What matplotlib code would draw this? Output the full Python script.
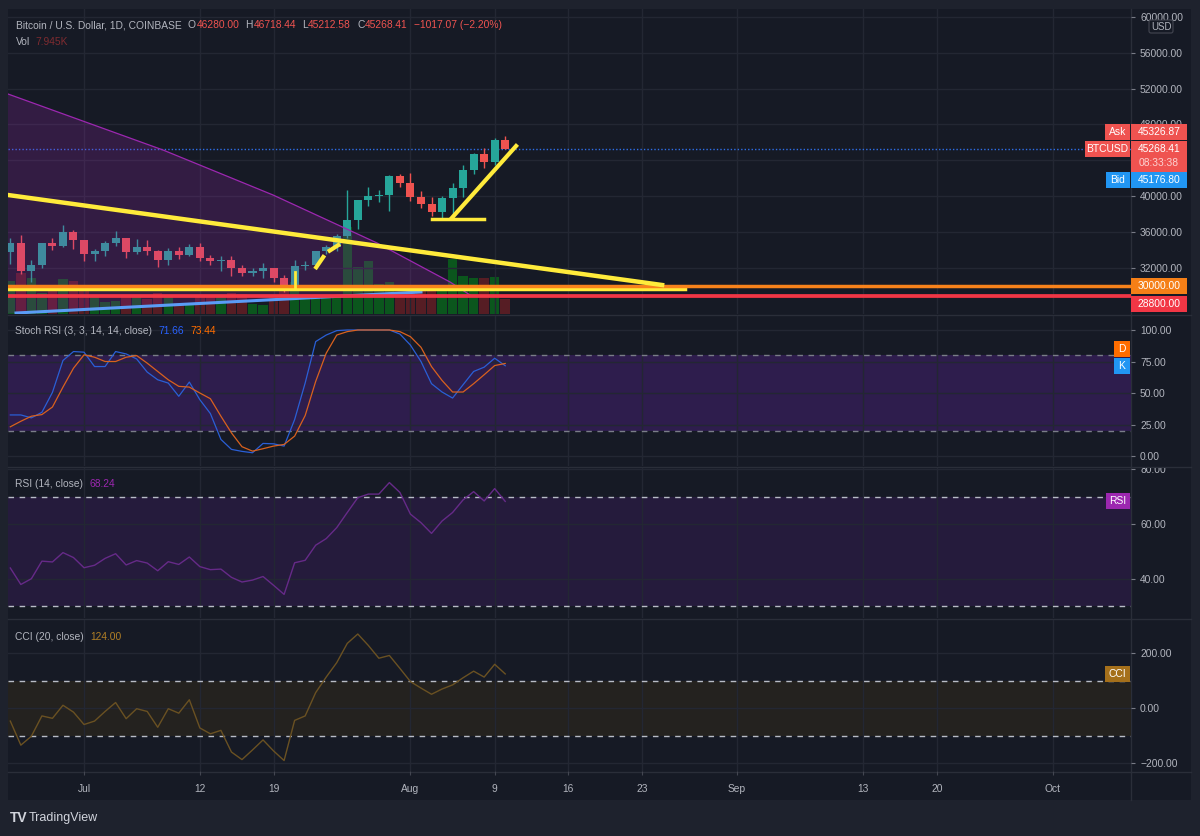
import numpy as np
import matplotlib.pyplot as plt
from matplotlib.patches import Rectangle, FancyBboxPatch, Polygon
from matplotlib.transforms import Bbox, TransformedBbox

plt.rcParams['font.family'] = ['Liberation Sans', 'DejaVu Sans']

W, H = 1200, 836
BG = '#161a25'
OUTER = '#1e222d'
GRID = '#232733'
SEP = '#2a2e39'
TXT = '#b2b5be'
UP, DOWN = '#26a69a', '#ef5350'
YEL = '#ffeb3b'
FS = 7.4

# daily BTCUSD candles, 24 Jun -> 10 Aug 2021 (day 0 = 1 Jul)
days = np.arange(-7, 41)
opens = [33700, 34750, 31600, 32300, 34700, 34450, 35950, 35050, 33500, 33850,
         34750, 35300, 33700, 34300, 33900, 32870, 33850, 33450, 34300, 33100,
         32700, 32820, 31900, 31400, 31650, 31900, 30800, 29800, 32150, 32300,
         33800, 34300, 35500, 37300, 39500, 40000, 40120, 42250, 41500, 39850,
         39150, 38200, 39750, 40870, 42900, 44650, 43800, 46280.00]
highs = [35300, 35600, 32800, 34800, 35300, 36800, 36200, 35100, 34100, 34950,
         36050, 35350, 35200, 35050, 34000, 34200, 34300, 34650, 34700, 33450,
         33250, 33250, 32300, 31950, 32500, 32000, 31150, 32850, 32700, 33850,
         34550, 35750, 40650, 39600, 40950, 40650, 42350, 42450, 42600, 40600,
         39850, 40050, 41400, 43450, 44850, 45400, 46500, 46718.44]
lows = [32400, 31300, 30400, 32000, 33950, 34300, 34050, 32700, 32700, 33350,
        34400, 33100, 33550, 33450, 32100, 32300, 33000, 33350, 32700, 32300,
        31600, 31050, 31050, 31100, 30800, 30400, 29300, 29500, 31700, 31900,
        33500, 33900, 35300, 36350, 38850, 39300, 38350, 41050, 39400, 38700,
        37750, 37550, 37350, 39850, 42450, 43100, 43450, 45212.58]
closes = [34750, 31600, 32300, 34700, 34450, 35950, 35050, 33500, 33850, 34750,
          35300, 33700, 34300, 33900, 32870, 33850, 33450, 34300, 33100, 32700,
          32820, 31900, 31400, 31650, 31900, 30800, 29800, 32150, 32300, 33800,
          34300, 35500, 37300, 39500, 40000, 40120, 42250, 41500, 39850, 39150,
          38200, 39750, 40870, 42900, 44650, 43800, 46280, 45268.41]
volume = [17.5, 21.7, 19, 11, 12, 18.5, 17.5, 14, 9, 6.5,
          7, 9, 9.5, 8, 11, 10, 6, 5.5, 9, 9,
          10, 11, 10.5, 5.5, 5, 9.5, 13, 17, 10, 10,
          9.5, 10, 46, 25, 28, 16, 17, 10, 13, 13,
          14, 14, 29, 20, 19, 19, 19.6, 7.945]  # thousand BTC

stoch_k = [32.6, 32.6, 30.3, 34.7, 50.5, 75.8, 82.9, 82.4, 71, 71,
           82.9, 81, 77, 66.6, 60.5, 57.9, 47.4, 58.7, 44.7, 33.7,
           13.2, 5.3, 3.7, 2.6, 10, 9.7, 7.9, 28.9, 57.9, 90.8,
           96, 99.5, 100, 100, 100, 100, 100, 96.8, 88, 75,
           57.4, 50.8, 46, 56.6, 67.1, 70.5, 77.6, 71.66]
stoch_d = [23.2, 27.6, 31.6, 32.9, 38.9, 54.7, 69.7, 80.3, 78.4, 75,
           75, 78.4, 79.7, 73.7, 67.1, 60.5, 55.3, 54.7, 50, 45.5,
           31.6, 18.4, 7.4, 3.9, 5.8, 7.9, 9.2, 15.8, 32.1, 59.2,
           81.6, 96, 98.7, 100, 100, 100, 100, 98.7, 94.7, 86.3,
           71, 60, 50.8, 50.8, 57.4, 64.5, 71.8, 73.44]
rsi = [44.0, 38.0, 40.1, 46.5, 46.2, 49.6, 47.8, 44.1, 45.0, 47.5,
       49.2, 45.1, 46.7, 45.8, 43.0, 46.3, 45.3, 48.0, 44.5, 43.4,
       43.6, 40.6, 38.9, 39.6, 40.9, 37.7, 34.4, 45.9, 46.8, 52.3,
       54.7, 58.7, 64.2, 69.6, 70.9, 70.9, 75.1, 71.5, 63.6, 60.5,
       56.6, 61.1, 64.2, 68.8, 71.8, 68.4, 72.9, 68.24]
cci = [-47.5, -135, -102.5, -28.75, -37.5, 10, -15, -60, -47.5, -12.5,
       20, -38.75, -2.5, -12.5, -70, -2.5, -18.75, 30, -72.5, -93.75,
       -81.25, -160, -187.5, -152.5, -116, -156, -191, -45, -28.75, 56,
       112.5, 165, 235, 269, 227.5, 181, 191, 144, 96, 72.5,
       50, 69, 84, 110, 134, 112.5, 159, 124]

tick_days = [0, 11, 18, 31, 39, 46, 53, 62, 74, 81, 92]
tick_labels = ['Jul', '12', '19', 'Aug', '9', '16', '23', 'Sep', '13', '20', 'Oct']
price_ticks = [32000, 36000, 40000, 44000, 48000, 52000, 56000, 60000]
price_labels = ['32000.00', '36000.00', '40000.00', '', '48000.00', '52000.00',
                '56000.00', '60000.00']  # 44000 sits under the Bid/last tags

# hand drawings (day, price)
purple_d = [-7.22, 7.50, 17.95, 27.83, 34.76, 36.66]
purple_p = [51397, 45140, 40112, 34749, 30391, 28939]
blue_d = [-6.46, 32.0]
blue_p = [26927, 29274]
trend_d = [-7.22, 54.9]
trend_p = [40112, 30056]
flat_d = [-7.22, 57.08]
flat_p = [29576, 29576]
tick_d = [20, 20]
tick_p = [29609, 31508]
dash_d = [21.94, 22.98, 24.31]
dash_p = [31844, 33632, 34637]
base_d = [33.05, 37.99]
base_p = [37397, 37397]
rise_d = [34.95, 41.03]
rise_p = [37576, 45587]

XMIN, XMAX = -7.22, 99.43
MAIN = (8, 9, 1131, 314)
STOCH = (8, 316, 1131, 466)
RSI = (8, 468, 1131, 618)
CCI = (8, 620, 1131, 771)

fig = plt.figure(figsize=(W / 100, H / 100), dpi=100, facecolor=OUTER)


def px_axes(box, z):
    x0, y0, x1, y1 = box
    a = fig.add_axes([x0 / W, 1 - y1 / H, (x1 - x0) / W, (y1 - y0) / H], zorder=z)
    a.set_facecolor('none')
    return a


def frac(box, x, y):
    x0, y0, x1, y1 = box
    return (x - x0) / (x1 - x0), (y1 - y) / (y1 - y0)


def style(a, ylim, yticks, ylabels):
    a.set_xlim(XMIN, XMAX)
    a.set_ylim(*ylim)
    for s in a.spines.values():
        s.set_visible(False)
    a.yaxis.tick_right()
    a.set_yticks(yticks)
    a.set_yticklabels(ylabels)
    a.set_xticks(tick_days)
    a.grid(True, color=GRID, lw=1)
    a.set_axisbelow(True)
    a.tick_params(axis='y', colors='#787b86', labelcolor=TXT, labelsize=FS,
                  length=3, pad=3.5, width=0.8)
    a.tick_params(axis='x', length=0, labelbottom=False)


def chain(a, box, x, y, parts):
    fx, fy = frac(box, x, y)
    t = a.text(fx, fy, parts[0][0], color=parts[0][1], transform=a.transAxes,
               fontsize=FS, va='center', ha='left', zorder=20)
    for s, c, gap in parts[1:]:
        t = a.annotate(s, xy=(1, 0.5), xycoords=t, xytext=(gap, 0),
                       textcoords='offset points', color=c, fontsize=FS,
                       va='center', ha='left', zorder=20)


def clip_label(a, idx, top_px, bottom_px):
    box = TransformedBbox(Bbox([[0, 1 - bottom_px / H], [1, 1 - top_px / H]]),
                          fig.transFigure)
    lbl = a.yaxis.get_major_ticks()[idx].label2
    lbl.set_clip_on(True)
    lbl.set_clip_box(box)


# frame
bg = px_axes((0, 0, W, H), 0)
bg.set_xlim(0, W)
bg.set_ylim(H, 0)
bg.axis('off')
bg.add_patch(Rectangle((8, 9), 1183, 791, fc=BG, ec='none'))
for y in (315, 467, 619, 772):
    bg.plot([8, 1191], [y, y], color=SEP, lw=1)
bg.plot([1131, 1131], [9, 800], color=SEP, lw=1)

# ---- main price pane ----
axv = px_axes(MAIN, 2)
ax = px_axes(MAIN, 3)
style(ax, (26816, 60894), price_ticks, price_labels)

o, h, l, c = (np.array(v, dtype=float) for v in (opens, highs, lows, closes))
up = c >= o
col = np.where(up, UP, DOWN)
vcol = np.where(up, '#0b561d', '#561d24')

axv.set_xlim(XMIN, XMAX)
axv.set_ylim(0, 305 * 0.53)
axv.axis('off')
axv.bar(days, volume, width=0.9, color=vcol)

ax.vlines(days, l, h, colors=col, lw=1, zorder=2)
ax.bar(days, np.maximum(np.abs(c - o), 120), bottom=np.minimum(o, c),
       width=0.76, color=col, zorder=2.1)

# purple zone between the curve and the blue line
slope = (blue_p[1] - blue_p[0]) / (blue_d[1] - blue_d[0])


def blue_at(d):
    return blue_p[0] + slope * (d - blue_d[0])


pts = []
for i in range(len(purple_d)):
    if purple_p[i] > blue_at(purple_d[i]):
        pts.append((purple_d[i], purple_p[i]))
    else:
        d0, p0, d1, p1 = purple_d[i - 1], purple_p[i - 1], purple_d[i], purple_p[i]
        f0, f1 = p0 - blue_at(d0), p1 - blue_at(d1)
        dx = d0 + f0 / (f0 - f1) * (d1 - d0)
        pts.append((dx, blue_at(dx)))
        break
pts.append((purple_d[0], blue_at(purple_d[0])))
ax.add_patch(Polygon(pts, closed=True, fc='#9c27b0', alpha=0.22, ec='none', zorder=3))
ax.plot(purple_d, purple_p, color='#9c27b0', lw=0.9, zorder=3.1)

ax.axhline(45268.41, color='#2f6fe8', lw=1, ls=(0, (1, 1.5)), zorder=1.9)
ax.plot(blue_d, blue_p, color='#5b9cf6', lw=2.2, zorder=4)
ax.plot(trend_d, trend_p, color=YEL, lw=3.2, zorder=5)
ax.plot(flat_d, flat_p, color=YEL, lw=2.5, zorder=4.6)
ax.axhline(30000, color='#f7821b', lw=2.5, zorder=4.7)
ax.axhline(28800, color='#f23645', lw=2.7, zorder=4.7)
ax.plot(tick_d, tick_p, color=YEL, lw=2, zorder=5)
ax.plot(dash_d, dash_p, color=YEL, lw=3, dashes=(4, 1.2), zorder=5)
ax.plot(base_d, base_p, color=YEL, lw=2.5, zorder=5)
ax.plot(rise_d, rise_p, color=YEL, lw=3, zorder=5)

RED_T = '#ef5350'
chain(ax, MAIN, 16, 25, [('Bitcoin / U.S. Dollar, 1D, COINBASE', TXT),
                         ('O', TXT, 4.5), ('46280.00', RED_T, 0.3),
                         ('H', TXT, 4.5), ('46718.44', RED_T, 0.3),
                         ('L', TXT, 4.5), ('45212.58', RED_T, 0.3),
                         ('C', TXT, 4.5), ('45268.41', RED_T, 0.3),
                         ('\u22121017.07 (\u22122.20%)', RED_T, 4.5)])
chain(ax, MAIN, 16, 42, [('Vol', TXT), ('7.945K', '#7e2b30', 4)])

# ---- Stoch RSI ----
ax_s = px_axes(STOCH, 3)
style(ax_s, (-7.9, 111.1), [0, 25, 50, 75, 100], ['0.00', '25.00', '50.00', '75.00', '100.00'])
ax_s.axhspan(20, 80, color='#2e1d4d', lw=0, zorder=0.3)
for v in (80, 20):
    ax_s.axhline(v, color='#7a7d88', lw=1, dashes=(4, 4), zorder=1)
ax_s.plot(days, stoch_k, color='#2a5fd6', lw=0.9, zorder=2)
ax_s.plot(days, stoch_d, color='#d9611e', lw=0.9, zorder=2)
chain(ax_s, STOCH, 15, 331, [('Stoch RSI (3, 3, 14, 14, close)', TXT),
                              ('71.66', '#2962ff', 4.5), ('73.44', '#ff6d00', 4.5)])

# ---- RSI ----
ax_r = px_axes(RSI, 3)
style(ax_r, (25.8, 80.4), [40, 60, 80], ['40.00', '60.00', '80.00'])
ax_r.axhspan(30, 70, color='#251b3c', lw=0, zorder=0.3)
for v in (70, 30):
    ax_r.axhline(v, color='#b8bcc6', lw=1, dashes=(4, 4), zorder=1)
ax_r.plot(days, rsi, color='#662a88', lw=1, zorder=2)
chain(ax_r, RSI, 15, 484, [('RSI (14, close)', TXT), ('68.24', '#9c27b0', 4.5)])
clip_label(ax_r, 2, 468, 620)

# ---- CCI ----
ax_c = px_axes(CCI, 3)
style(ax_c, (-229, 320), [-200, 0, 200], ['\u2212200.00', '0.00', '200.00'])
ax_c.axhspan(-100, 100, color='#24221f', lw=0, zorder=0.3)
for v in (100, -100):
    ax_c.axhline(v, color='#b8bcc6', lw=1, dashes=(4, 4), zorder=1)
ax_c.plot(days, cci, color='#6a5122', lw=1, zorder=2)
chain(ax_c, CCI, 15, 637, [('CCI (20, close)', TXT), ('124.00', '#b07f26', 4.5)])
ax_c.set_xticklabels(tick_labels)
ax_c.tick_params(axis='x', length=3, color='#434651', labelcolor=TXT,
                 labelsize=FS, pad=6, labelbottom=True)

# ---- price-scale tags ----
over = px_axes((0, 0, W, H), 10)
over.set_xlim(0, W)
over.set_ylim(H, 0)
over.axis('off')


def ypx(a, v):
    return H - a.transData.transform((0, v))[1]


def tag(yc, x0, x1, text, fc, tc='white', hgt=16):
    over.add_patch(Rectangle((x0, yc - hgt / 2), x1 - x0, hgt, fc=fc, ec='none'))
    over.text((x0 + x1) / 2, yc, text, color=tc, fontsize=FS, ha='center', va='center')


y_ask = ypx(ax, 45326.87) - 16.5
tag(y_ask, 1105, 1130, 'Ask', '#ef5350')
tag(y_ask, 1131, 1187, '45326.87', '#ef5350')
clip_label(ax, 4, 9, y_ask - 8)   # 48000 label is mostly hidden by the Ask tag
y_last = ypx(ax, 45268.41)
tag(y_last, 1085, 1130, 'BTCUSD', '#ef5350')
over.add_patch(Rectangle((1131, y_last - 8), 56, 31, fc='#ef5350', ec='none'))
over.text(1159, y_last, '45268.41', color='white', fontsize=FS, ha='center', va='center')
over.text(1159, y_last + 14, '08:33:38', color='#fcd3d2', fontsize=FS, ha='center', va='center')
y_bid = ypx(ax, 45176.80) + 30
tag(y_bid, 1106, 1130, 'Bid', '#2196f3')
tag(y_bid, 1131, 1187, '45176.80', '#2196f3')
tag(ypx(ax, 30000), 1131, 1187, '30000.00', '#f57f17')
tag(ypx(ax, 28800) + 8, 1131, 1187, '28800.00', '#f23645')

tag(ypx(ax_s, 73.44) - 14.5, 1114, 1130, 'D', '#ff6d00')
tag(ypx(ax_s, 71.66), 1114, 1130, 'K', '#2196f3')
tag(ypx(ax_r, 68.24), 1106, 1130, 'RSI', '#9c27b0')
tag(ypx(ax_c, 124), 1105, 1130, 'CCI', '#a5701b')

over.add_patch(FancyBboxPatch((1149, 20), 24, 13, boxstyle='round,pad=0,rounding_size=2',
                              fc=BG, ec='#434651', lw=0.8))
over.text(1161, 26.5, 'USD', color=TXT, fontsize=7, ha='center', va='center')

over.text(10, 818, 'TV', color='#d1d4dc', fontsize=10, weight='bold', ha='left', va='center')
over.text(29, 818, 'TradingView', color='#d1d4dc', fontsize=9, ha='left', va='center')

fig.savefig('out.png', dpi=100, facecolor=OUTER)
